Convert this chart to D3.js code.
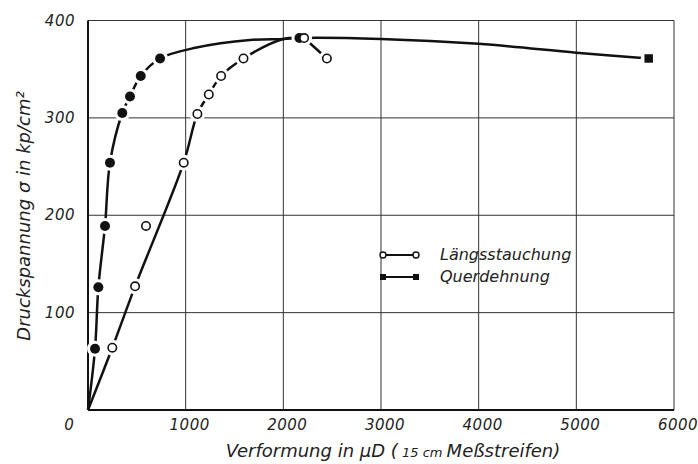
<!DOCTYPE html>
<html>
<head>
<meta charset="utf-8">
<script src="https://cdn.jsdelivr.net/npm/d3@7"></script>
<style>
  body { margin: 0; background: #fff; }
  text { font-family: "DejaVu Sans", sans-serif; font-style: italic; fill: #222; }
</style>
</head>
<body>
<div id="chart"></div>
<script>
// measured points (strain in µD, stress in kp/cm²)
const langsX = [249, 482, 594, 980, 1120, 1237, 1363, 1592, 2213, 2446];
const langsY = [64, 127, 189, 254, 304, 324, 343, 361, 382, 361];
const querX = [72, 106, 174, 225, 351, 430, 540, 738, 2165, 5741];
const querY = [63, 126, 189, 254, 305, 322, 343, 361, 382, 361];

// drawn curves
const langsCurveX = [0, 249, 482, 980, 1120, 1237, 1363, 1592, 2000, 2213];
const langsCurveY = [0, 64, 127, 254, 304, 324, 343, 361, 381, 382];
const langsTailX = [2213, 2446];
const langsTailY = [382, 361];
const querCurveX = [0, 72, 106, 174, 225, 351, 430, 540, 738, 1100, 1660, 2000, 2165, 3000, 4000, 5000, 5741];
const querCurveY = [0, 63, 126, 189, 254, 305, 322, 343, 361, 372, 380, 381, 382, 381, 376, 367, 361];

const xTicks = [1000, 2000, 3000, 4000, 5000, 6000];
const yTicks = [100, 200, 300, 400];

const w = 698, h = 464;
const m = { left: 88, right: 24, top: 20.5, bottom: 54 };

const svg = d3.select('#chart').append('svg')
  .attr('width', w)
  .attr('height', h);

const x = d3.scaleLinear().domain([0, 6000]).range([m.left, w - m.right]);
const y = d3.scaleLinear().domain([0, 400]).range([h - m.bottom, m.top]);

// grid
svg.append('g')
  .selectAll('line')
  .data(xTicks)
  .enter().append('line')
  .attr('x1', d => x(d)).attr('x2', d => x(d))
  .attr('y1', y(0)).attr('y2', y(400))
  .attr('stroke', '#333').attr('stroke-width', 1);
svg.append('g')
  .selectAll('line')
  .data(yTicks)
  .enter().append('line')
  .attr('x1', x(0)).attr('x2', x(6000))
  .attr('y1', d => y(d)).attr('y2', d => y(d))
  .attr('stroke', '#333').attr('stroke-width', 1);

// left and bottom axis
svg.append('line')
  .attr('x1', x(0)).attr('x2', x(0)).attr('y1', y(0)).attr('y2', y(400))
  .attr('stroke', '#111').attr('stroke-width', 2);
svg.append('line')
  .attr('x1', x(0)).attr('x2', x(6000)).attr('y1', y(0)).attr('y2', y(0))
  .attr('stroke', '#111').attr('stroke-width', 2);

// tick labels
svg.append('g')
  .selectAll('text')
  .data(yTicks)
  .enter().append('text')
  .attr('x', x(0) - 13)
  .attr('y', d => y(d) + 5)
  .attr('text-anchor', 'end')
  .attr('font-size', 15)
  .attr('letter-spacing', 0.5)
  .text(d => d);
svg.append('g')
  .selectAll('text')
  .data(xTicks)
  .enter().append('text')
  .attr('x', d => x(d) + 4)
  .attr('y', y(0) + 20)
  .attr('text-anchor', 'middle')
  .attr('font-size', 15)
  .attr('letter-spacing', 0.5)
  .text(d => d);
svg.append('text')
  .attr('x', x(0) - 19)
  .attr('y', y(0) + 20)
  .attr('text-anchor', 'middle')
  .attr('font-size', 15)
  .text('0');

// axis titles
const xt = svg.append('text')
  .attr('x', 393)
  .attr('y', y(0) + 47)
  .attr('text-anchor', 'middle')
  .attr('font-size', 18);
xt.append('tspan').text('Verformung in \u03bcD (');
xt.append('tspan').attr('font-size', 13).text(' 15 cm ');
xt.append('tspan').text('Meßstreifen)');

svg.append('text')
  .attr('transform', 'translate(30,' + 216 + ') rotate(-90)')
  .attr('text-anchor', 'middle')
  .attr('font-size', 18)
  .text('Druckspannung \u03c3 in kp/cm\u00b2');

// curves
const line = d3.line()
  .x(d => x(d[0]))
  .y(d => y(d[1]))
  .curve(d3.curveCatmullRom.alpha(0.5));

const zip = (a, b) => a.map((v, i) => [v, b[i]]);

[zip(querCurveX, querCurveY), zip(langsCurveX, langsCurveY), zip(langsTailX, langsTailY)]
  .forEach(pts => {
    svg.append('path')
      .attr('d', line(pts))
      .attr('fill', 'none')
      .attr('stroke', '#111')
      .attr('stroke-width', 2.5);
  });

// markers with white halo (gives the broken-line look)
const langsPts = zip(langsX, langsY);
const querPts = zip(querX, querY);

svg.append('g')
  .selectAll('circle')
  .data(querPts.concat(langsPts))
  .enter().append('circle')
  .attr('cx', d => x(d[0]))
  .attr('cy', d => y(d[1]))
  .attr('r', 8)
  .attr('fill', '#fff');

svg.append('g')
  .selectAll('path')
  .data(querPts)
  .enter().append('path')
  .attr('transform', d => 'translate(' + x(d[0]) + ',' + y(d[1]) + ')')
  .attr('d', (d, i) => d3.symbol()
    .type(i === querPts.length - 1 ? d3.symbolSquare : d3.symbolCircle)
    .size(i === querPts.length - 1 ? 72 : 78)())
  .attr('fill', '#111');

svg.append('g')
  .selectAll('circle')
  .data(langsPts)
  .enter().append('circle')
  .attr('cx', d => x(d[0]))
  .attr('cy', d => y(d[1]))
  .attr('r', 4.2)
  .attr('fill', '#fff')
  .attr('stroke', '#111')
  .attr('stroke-width', 1.6);

// legend
const legend = svg.append('g').attr('font-size', 16);
const rows = [
  { name: 'Längsstauchung', open: true },
  { name: 'Querdehnung', open: false }
];
const lg = legend.selectAll('g')
  .data(rows)
  .enter().append('g')
  .attr('transform', (d, i) => 'translate(383,' + (255 + i * 22) + ')');
lg.append('line')
  .attr('x1', 0).attr('x2', 33)
  .attr('stroke', '#111').attr('stroke-width', 1.8);
lg.each(function(d) {
  const g = d3.select(this);
  [0, 33].forEach(px => {
    if (d.open) {
      g.append('circle').attr('cx', px).attr('cy', 0).attr('r', 3)
        .attr('fill', '#fff').attr('stroke', '#111').attr('stroke-width', 1.4);
    } else {
      g.append('rect').attr('x', px - 3).attr('y', -3).attr('width', 6).attr('height', 6)
        .attr('fill', '#111');
    }
  });
});
lg.append('text')
  .attr('x', 57)
  .attr('y', 5)
  .text(d => d.name);
</script>
</body>
</html>
